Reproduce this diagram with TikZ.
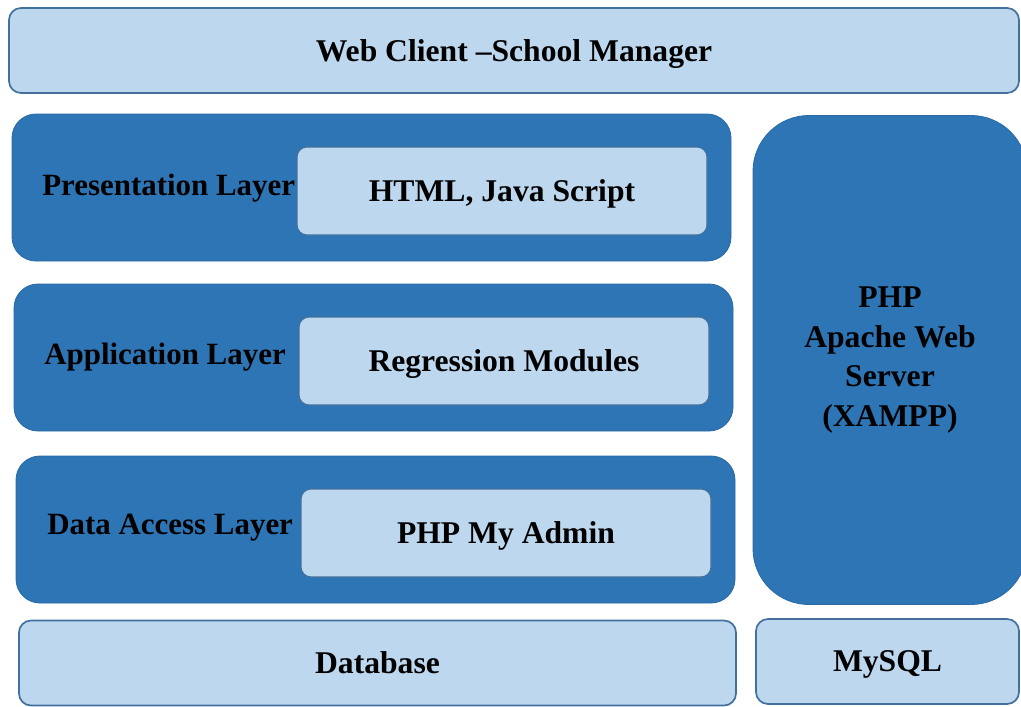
\documentclass[tikz,border=0pt]{standalone}
\usepackage{fontspec}
\setmainfont{Liberation Serif}
\usetikzlibrary{positioning}

\definecolor{darkblue}{HTML}{2E75B6}
\definecolor{lightblue}{HTML}{BDD7EE}
\definecolor{edgeblue}{HTML}{41719C}

\tikzset{
  lightbox/.style={draw=edgeblue,fill=lightblue,line width=1.2pt,rounded corners=0.3cm,
    text depth=0pt,font=\fontsize{22.5}{26}\selectfont\bfseries},
  layerbox/.style={draw=darkblue!90!black,fill=darkblue,line width=0.6pt,rounded corners=0.6cm},
  innerbox/.style={draw=edgeblue,fill=lightblue,line width=0.8pt,rounded corners=0.25cm,
    text depth=0pt,font=\fontsize{22.5}{26}\selectfont\bfseries},
  layerlabel/.style={font=\fontsize{22}{26}\selectfont\bfseries,anchor=west,inner sep=0pt}
}

\begin{document}
\begin{tikzpicture}[x=0.025cm,y=-0.025cm]
  \useasboundingbox (0,0) rectangle (1021,706);
  % top bar
  \node[lightbox,minimum width=1010*0.025cm,minimum height=85*0.025cm] (web) at (514,50.5) {Web Client --School Manager};
  % three layers
  \node[layerbox,minimum width=719*0.025cm,minimum height=147*0.025cm] (pres) at (371.5,187.5) {};
  \node[innerbox,minimum width=410*0.025cm,minimum height=88*0.025cm] (html) at (502,191) {HTML, Java Script};
  \node[layerlabel] (preslbl) at (42,188) {Presentation Layer};
  \node[layerbox,minimum width=719*0.025cm,minimum height=147*0.025cm] (app) at (373.5,357.5) {};
  \node[innerbox,minimum width=410*0.025cm,minimum height=88*0.025cm] (reg) at (504,361) {Regression Modules};
  \node[layerlabel] (applbl) at (44,357) {Application Layer};
  \node[layerbox,minimum width=719*0.025cm,minimum height=147*0.025cm] (data) at (375.5,529.5) {};
  \node[innerbox,minimum width=410*0.025cm,minimum height=88*0.025cm] (pma) at (506,533) {PHP My Admin};
  \node[layerlabel] (datalbl) at (47,528) {Data Access Layer};
  % server column
  \node[layerbox,rounded corners=1.4cm,minimum width=274*0.025cm,minimum height=489*0.025cm,
    align=center,font=\fontsize{22.5}{28}\selectfont\bfseries] (server) at (890,360)
    {PHP\\Apache Web\\Server\\(XAMPP)};
  % bottom row
  \node[lightbox,minimum width=717*0.025cm,minimum height=85*0.025cm] (db) at (377.5,663) {Database};
  \node[lightbox,minimum width=263*0.025cm,minimum height=85*0.025cm] (mysql) at (887.5,661.5) {MySQL};
\end{tikzpicture}
\end{document}
